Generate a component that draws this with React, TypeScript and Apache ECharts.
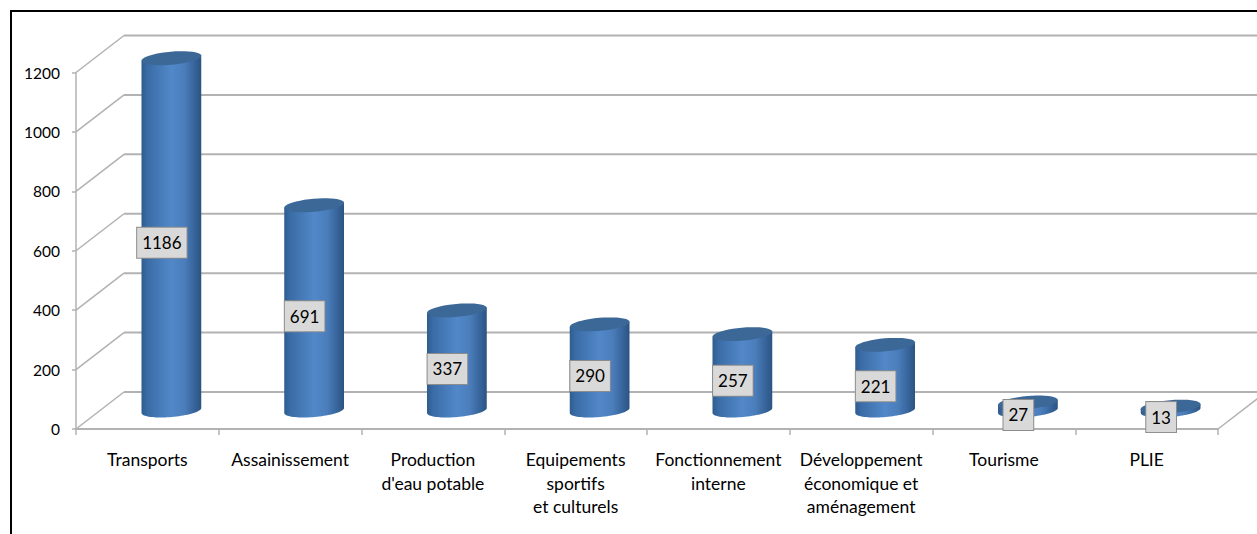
import React, { useEffect, useRef } from "react";
import * as echarts from "echarts";

const categories = [
  "Transports",
  "Assainissement",
  "Production\nd'eau potable",
  "Equipements\nsportifs\net culturels",
  "Fonctionnement\ninterne",
  "Développement\néconomique et\naménagement",
  "Tourisme",
  "PLIE",
];
const values = [1186, 691, 337, 290, 257, 221, 27, 13];
const axisTicks = [0, 200, 400, 600, 800, 1000, 1200];

// Depth of the pseudo-3D box, in pixels.
const DEPTH_X = 48;
const DEPTH_Y = 37;
const RX = 30;
const RY = 6.5;
const TILT = (5 * Math.PI) / 180;
const GRID_COLOR = "#b2b2b2";
const FONT = "Lato";

// Point of a tilted ellipse; t = 0 is the right end, t = PI the left end,
// t in (0, PI) runs along the near (lower) edge.
function ellipsePoint(cx: number, cy: number, t: number): [number, number] {
  const a = RX * Math.cos(t);
  const b = RY * Math.sin(t);
  return [cx + a * Math.cos(TILT) + b * Math.sin(TILT), cy - a * Math.sin(TILT) + b * Math.cos(TILT)];
}

function arcPoints(cx: number, cy: number, from: number, to: number): [number, number][] {
  const steps = 40;
  const pts: [number, number][] = [];
  for (let i = 0; i <= steps; i++) {
    pts.push(ellipsePoint(cx, cy, from + ((to - from) * i) / steps));
  }
  return pts;
}

function renderWall(params: any, api: any) {
  const sys = params.coordSys;
  const v = api.value(1);
  const y = api.coord([0, v])[1];
  const x0 = sys.x;
  const right = sys.x + sys.width;
  const children: any[] = [
    {
      type: "line",
      shape: { x1: x0, y1: y, x2: x0 + DEPTH_X, y2: y - DEPTH_Y },
      style: { stroke: GRID_COLOR, lineWidth: 1.5 },
    },
    {
      type: "line",
      shape: { x1: x0 + DEPTH_X, y1: y - DEPTH_Y, x2: right + DEPTH_X, y2: y - DEPTH_Y },
      style: { stroke: GRID_COLOR, lineWidth: 2 },
    },
  ];
  if (v === 0) {
    children.push({
      type: "line",
      shape: { x1: right, y1: y, x2: right + DEPTH_X, y2: y - DEPTH_Y },
      style: { stroke: GRID_COLOR, lineWidth: 1.5 },
    });
  }
  return { type: "group", children };
}

function renderCylinder(_params: any, api: any) {
  const v = api.value(1);
  const [cx0, y0] = api.coord([api.value(0), 0]);
  const [, yv] = api.coord([api.value(0), v]);
  const cx = cx0 + DEPTH_X / 2;
  const base = y0 - DEPTH_Y / 2;
  const top = yv - DEPTH_Y / 2;

  // Right end of the top, down the side, round the near base edge, up the other side.
  const bodyPoints = [ellipsePoint(cx, top, 0), ...arcPoints(cx, base, 0, Math.PI), ellipsePoint(cx, top, Math.PI)];
  const capPoints = arcPoints(cx, top, 0, Math.PI * 2);

  const shade = new echarts.graphic.LinearGradient(0, 0, 1, 0, [
    { offset: 0, color: "#2f5c8e" },
    { offset: 0.1, color: "#3a6ca6" },
    { offset: 0.5, color: "#5288c9" },
    { offset: 0.72, color: "#4a7dba" },
    { offset: 0.92, color: "#335f94" },
    { offset: 1, color: "#2c5480" },
  ]);

  return {
    type: "group",
    children: [
      { type: "polygon", shape: { points: bodyPoints }, style: { fill: shade } },
      { type: "polygon", shape: { points: capPoints }, style: { fill: "#3c6898" } },
      {
        type: "text",
        z2: 10,
        style: {
          text: String(v),
          x: cx - 9.5,
          y: (top + base) / 2 + 8.5,
          align: "center",
          verticalAlign: "middle",
          font: `17px ${FONT}`,
          fill: "#000",
          backgroundColor: "#d9d9d9",
          borderColor: "#8c8c8c",
          borderWidth: 1,
          padding: [7, 5, 6, 5],
        },
      },
    ],
  };
}

export default function App() {
  const ref = useRef<HTMLDivElement>(null);
  useEffect(() => {
    const chart = echarts.init(ref.current!, undefined, { renderer: "svg" });
    chart.setOption({
      animation: false,
      backgroundColor: "#ffffff",
      textStyle: { fontFamily: FONT },
      grid: { left: 76, right: 39, top: 72.5, bottom: 105 },
      xAxis: {
        type: "category",
        data: categories,
        axisLine: { lineStyle: { color: GRID_COLOR, width: 2 } },
        axisTick: { show: true, length: 6, alignWithLabel: false, lineStyle: { color: GRID_COLOR, width: 1.5 } },
        axisLabel: {
          interval: 0,
          margin: 19,
          fontFamily: FONT,
          fontSize: 17.5,
          lineHeight: 23.5,
          color: "#000",
        },
      },
      yAxis: {
        type: "value",
        min: 0,
        max: 1200,
        interval: 200,
        splitLine: { show: false },
        axisLine: { show: true, lineStyle: { color: GRID_COLOR, width: 1.5 } },
        axisTick: { show: true, length: 4, lineStyle: { color: GRID_COLOR, width: 1.5 } },
        axisLabel: {
          margin: 16,
          fontFamily: FONT,
          fontSize: 15.5,
          color: "#000",
          formatter: (v: number) => String(v),
        },
      },
      series: [
        {
          type: "custom",
          name: "Parois",
          renderItem: renderWall,
          encode: { x: 0, y: 1 },
          data: axisTicks.map((t) => [0, t]),
          silent: true,
          z: 1,
        },
        {
          type: "custom",
          name: "Montant",
          renderItem: renderCylinder,
          encode: { x: 0, y: 1 },
          data: values.map((v, i) => [i, v]),
          z: 3,
        },
      ],
      graphic: [
        { type: "line", shape: { x1: 10, y1: 11, x2: 1257, y2: 11 }, style: { stroke: "#000", lineWidth: 2 } },
        { type: "line", shape: { x1: 11, y1: 10, x2: 11, y2: 534 }, style: { stroke: "#000", lineWidth: 2 } },
      ],
    });
    return () => chart.dispose();
  }, []);
  return (
    <div
      ref={ref}
      style={{ position: "absolute", left: 0, top: 0, width: 1257, height: 534 }}
    />
  );
}
